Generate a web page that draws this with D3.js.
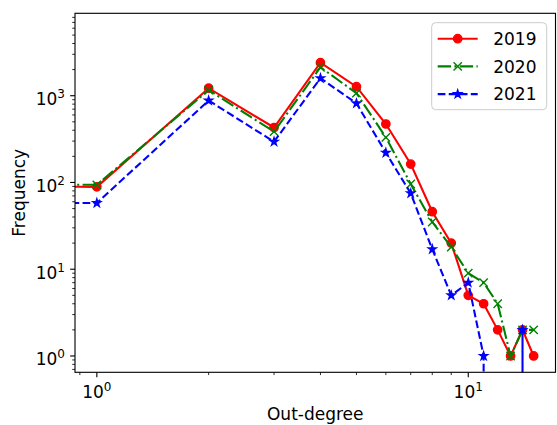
<!DOCTYPE html>
<html>
<head>
<meta charset="utf-8">
<script src="https://cdn.jsdelivr.net/npm/d3@7"></script>
<style>
  body { margin: 0; background: #fff; }
  svg { display: block; font-family: "DejaVu Sans", sans-serif; }
</style>
</head>
<body>
<div id="chart"></div>
<script>

// out-degree 0 is clipped off the log axis, only its line stub shows at the left edge
var degrees = [0, 1, 2, 3, 4, 5, 6, 7, 8, 9, 10, 11, 12, 13, 14, 15];
var freq2019 = [5780, 89, 1220, 430, 2400, 1270, 472, 163, 46, 20, 5, 4, 2, 1, 2, 1];
var freq2020 = [5400, 94, 1160, 385, 2130, 1070, 331, 96, 35, 18, 9, 7, 4, 1, 2, 2];
var freq2021 = [5000, 58, 880, 295, 1590, 817, 220, 75, 17, 5, 7, 1, 0, 0, 2, 0];
var seriesNames = ["2019", "2020", "2021"];
var xMajorTicks = [1, 10];
var xMinorTicks = [0.9, 2, 3, 4, 5, 6, 7, 8, 9];
var yMajorTicks = [1, 10, 100, 1000];
var yMinorTicks = [0.7, 0.8, 0.9, 2, 3, 4, 5, 6, 7, 8, 9, 20, 30, 40, 50, 60, 70, 80, 90,
                   200, 300, 400, 500, 600, 700, 800, 900, 2000, 3000, 4000, 5000, 6000, 7000, 8000];

function drawChart(){

    var W = 557, H = 425;
    var margin = {top: 13.3, right: 1.5, bottom: 52.7, left: 75},
        width = W - margin.left - margin.right,
        height = H - margin.top - margin.bottom;

    var pt = 100 / 72;          // px per point
    var lw = 1.5 * pt;
    var ms = 6 * pt;
    var fontSize = 17;

    var styles = [
        {color: "#ff0000", dash: null, marker: "o"},
        {color: "#008000", dash: [6.4 * lw, 1.6 * lw, 1 * lw, 1.6 * lw].join(","), marker: "x"},
        {color: "#0000ff", dash: [3.7 * lw, 1.6 * lw].join(","), marker: "*"}
    ];
    var allFreq = [freq2019, freq2020, freq2021];

    var series = seriesNames.map(function(name, i) {
        return {
            name: name,
            style: styles[i],
            values: degrees.map(function(d, j) { return {deg: d, freq: allFreq[i][j]}; })
        };
    });

    // log limits with 5% margin like matplotlib (non positive values ignored)
    function logExtent(vals) {
        var pos = vals.filter(function(v) { return v > 0; });
        var lo = Math.log10(d3.min(pos)), hi = Math.log10(d3.max(pos));
        var m = (hi - lo) * 0.05;
        return [Math.pow(10, lo - m), Math.pow(10, hi + m)];
    }

    var x = d3.scaleLog()
        .domain(logExtent(degrees))
        .range([0, width]);
    var y = d3.scaleLog()
        .domain(logExtent(freq2019.concat(freq2020, freq2021)))
        .range([height, 0]);

    var clipv = function(v) { return Math.max(v, 1e-300); };

    var svg = d3.select("#chart").append("svg")
        .attr("width", W)
        .attr("height", H);

    var g = svg.append("g")
        .attr("transform", "translate(" + margin.left + "," + margin.top + ")");

    g.append("clipPath").attr("id", "plotclip")
      .append("rect")
        .attr("width", width)
        .attr("height", height);

    var plot = g.append("g").attr("clip-path", "url(#plotclip)");

    var line = d3.line()
        .x(function(d) { return x(clipv(d.deg)); })
        .y(function(d) { return y(clipv(d.freq)); });

    function starPath(r) {
        var p = [];
        for (var i = 0; i < 10; i++) {
            var a = -Math.PI / 2 + i * Math.PI / 5;
            var rr = i % 2 ? r * 0.381966 : r;
            p.push([rr * Math.cos(a), rr * Math.sin(a)]);
        }
        return "M" + p.join("L") + "Z";
    }

    function drawMarker(sel, style) {
        var r = ms / 2;
        if (style.marker == "o") {
            sel.append("circle").attr("r", r)
                .attr("fill", style.color).attr("stroke", style.color).attr("stroke-width", pt);
        } else if (style.marker == "x") {
            sel.append("path")
                .attr("d", "M" + (-r) + "," + (-r) + "L" + r + "," + r + "M" + (-r) + "," + r + "L" + r + "," + (-r))
                .attr("fill", "none").attr("stroke", style.color).attr("stroke-width", pt);
        } else {
            sel.append("path").attr("d", starPath(r))
                .attr("fill", style.color).attr("stroke", style.color).attr("stroke-width", pt)
                .attr("stroke-linejoin", "miter");
        }
    }

    series.forEach(function(s) {
        plot.append("path")
            .attr("d", line(s.values))
            .attr("fill", "none")
            .attr("stroke", s.style.color)
            .attr("stroke-width", lw)
            .attr("stroke-dasharray", s.style.dash)
            .attr("stroke-linecap", "butt");

        plot.selectAll(".m" + s.name)
            .data(s.values.filter(function(d) { return d.deg > 0 && d.freq > 0; }))
            .enter().append("g")
            .attr("class", "m" + s.name)
            .attr("transform", function(d) { return "translate(" + x(d.deg) + "," + y(d.freq) + ")"; })
            .each(function() { drawMarker(d3.select(this), s.style); });
    });

    // axes
    var axisColor = "#000";
    function supLabel(sel, v) {
        var e = Math.round(Math.log10(v));
        sel.append("tspan").text("10");
        sel.append("tspan").attr("font-size", 12).attr("dy", -7).text(e);
    }

    var xa = g.append("g").attr("transform", "translate(0," + height + ")");
    xa.selectAll(".xmin").data(xMinorTicks.filter(function(v) { return v >= x.domain()[0] && v <= x.domain()[1]; }))
        .enter().append("line")
        .attr("x1", function(d) { return x(d); }).attr("x2", function(d) { return x(d); })
        .attr("y1", 0).attr("y2", 2 * pt)
        .attr("stroke", axisColor).attr("stroke-width", 0.6 * pt);
    xa.selectAll(".xmaj").data(xMajorTicks)
        .enter().append("line")
        .attr("x1", function(d) { return x(d); }).attr("x2", function(d) { return x(d); })
        .attr("y1", 0).attr("y2", 3.5 * pt)
        .attr("stroke", axisColor).attr("stroke-width", 0.8 * pt);
    xa.selectAll(".xlab").data(xMajorTicks)
        .enter().append("text")
        .attr("x", function(d) { return x(d); })
        .attr("y", 26)
        .attr("text-anchor", "middle")
        .attr("font-size", fontSize)
        .attr("fill", "#000")
        .each(function(d) { supLabel(d3.select(this), d); });

    var ya = g.append("g");
    ya.selectAll(".ymin").data(yMinorTicks.filter(function(v) { return v >= y.domain()[0] && v <= y.domain()[1]; }))
        .enter().append("line")
        .attr("x1", 0).attr("x2", -2 * pt)
        .attr("y1", function(d) { return y(d); }).attr("y2", function(d) { return y(d); })
        .attr("stroke", axisColor).attr("stroke-width", 0.6 * pt);
    ya.selectAll(".ymaj").data(yMajorTicks)
        .enter().append("line")
        .attr("x1", 0).attr("x2", -3.5 * pt)
        .attr("y1", function(d) { return y(d); }).attr("y2", function(d) { return y(d); })
        .attr("stroke", axisColor).attr("stroke-width", 0.8 * pt);
    ya.selectAll(".ylab").data(yMajorTicks)
        .enter().append("text")
        .attr("x", -10)
        .attr("y", function(d) { return y(d) + 9.3; })
        .attr("text-anchor", "end")
        .attr("font-size", fontSize)
        .attr("fill", "#000")
        .each(function(d) { supLabel(d3.select(this), d); });

    // frame
    g.append("rect")
        .attr("width", width)
        .attr("height", height)
        .attr("fill", "none")
        .attr("stroke", "#000")
        .attr("stroke-width", 0.8 * pt);

    // axis titles
    svg.append("text")
        .attr("x", margin.left + width / 2)
        .attr("y", 420)
        .attr("text-anchor", "middle")
        .attr("font-size", fontSize)
        .text("Out-degree");
    svg.append("text")
        .attr("transform", "translate(25," + (margin.top + height / 2) + ") rotate(-90)")
        .attr("text-anchor", "middle")
        .attr("font-size", fontSize)
        .text("Frequency");

    // legend
    var lg = svg.append("g").attr("transform", "translate(431.7,22.7)");
    lg.append("rect")
        .attr("width", 115)
        .attr("height", 87)
        .attr("rx", 4)
        .attr("fill", "#fff")
        .attr("fill-opacity", 0.8)
        .attr("stroke", "#cccccc")
        .attr("stroke-width", 1);
    series.forEach(function(s, i) {
        var row = lg.append("g").attr("transform", "translate(0," + (16 + i * 27.7) + ")");
        row.append("line")
            .attr("x1", 6).attr("x2", 46)
            .attr("stroke", s.style.color)
            .attr("stroke-width", lw)
            .attr("stroke-dasharray", s.style.dash);
        drawMarker(row.append("g").attr("transform", "translate(26,0)"), s.style);
        row.append("text")
            .attr("x", 61.5)
            .attr("y", 6.2)
            .attr("font-size", fontSize)
            .text(s.name);
    });
}
drawChart();
</script>
</body>
</html>
